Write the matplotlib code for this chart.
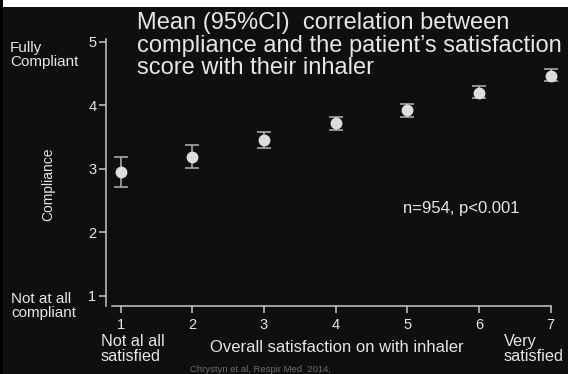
import numpy as np
import matplotlib.pyplot as plt
from matplotlib.patches import Rectangle

# satisfaction score vs mean compliance with 95% CI
satisfaction = [1, 2, 3, 4, 5, 6, 7]
compliance_mean = [2.95, 3.19, 3.46, 3.72, 3.93, 4.20, 4.47]
ci_low = [2.71, 3.01, 3.32, 3.61, 3.82, 4.11, 4.38]
ci_high = [3.18, 3.37, 3.58, 3.81, 4.02, 4.30, 4.57]
y_ticks = [1, 2, 3, 4, 5]
x_ticks = [1, 2, 3, 4, 5, 6, 7]

bg = '#0f0f0f'
fg = '#e6e6e6'
axcol = '#c8c8c8'

plt.rcParams['font.family'] = ['Liberation Sans', 'DejaVu Sans']

fig = plt.figure(figsize=(5.68, 3.74), dpi=100, facecolor=bg)
ax = fig.add_axes([0.1866, 0.1826, 0.7829, 0.7131], facecolor=bg)

yerr = [np.array(compliance_mean) - np.array(ci_low),
        np.array(ci_high) - np.array(compliance_mean)]
ax.errorbar(satisfaction, compliance_mean, yerr=yerr, fmt='o', ms=7.5,
            mfc='#dedede', mec='#dedede', ecolor='#b4b4b4', elinewidth=1.1,
            capsize=5, capthick=1.1, clip_on=False, zorder=3)

ax.set_xlim(0.795, 7.0)
ax.set_ylim(0.839, 5.047)
ax.set_xticks(x_ticks)
ax.set_yticks(y_ticks)

for s in ['top', 'right']:
    ax.spines[s].set_visible(False)
ax.spines['left'].set_color(axcol)
ax.spines['bottom'].set_color(axcol)
ax.spines['left'].set_linewidth(1.1)
ax.spines['bottom'].set_linewidth(1.1)
ax.spines['bottom'].set_bounds(0.875, 7.0)
ax.tick_params(colors=axcol, labelcolor=fg, labelsize=10.5, length=5, width=1.1)
ax.tick_params(axis='x', pad=4)
ax.tick_params(axis='y', pad=2)

# frame bits of the slide screenshot
fig.patches.append(Rectangle((0, 1 - 7 / 374), 1, 7 / 374, transform=fig.transFigure,
                             facecolor='white', edgecolor='none', zorder=0))
fig.patches.append(Rectangle((0, 0), 3 / 568, 1, transform=fig.transFigure,
                             facecolor='black', edgecolor='none', zorder=1))

fig.text(137 / 568, 1 - 12 / 374,
         'Mean (95%CI)  correlation between\ncompliance and the patient\u2019s satisfaction\nscore with their inhaler',
         color=fg, fontsize=17, ha='left', va='top', linespacing=1.03)

fig.text(10 / 568, 1 - 55 / 374, 'Fully\nCompliant', color=fg, fontsize=11,
         ha='left', va='center', linespacing=1.02)
fig.text(11 / 568, 1 - 306 / 374, 'Not at all\ncompliant', color=fg, fontsize=11,
         ha='left', va='center', linespacing=1.02)
fig.text(48 / 568, 1 - 184 / 374, 'Compliance', color=fg, fontsize=10,
         rotation=90, ha='center', va='center')

fig.text(101 / 568, 1 - 349 / 374, 'Not al all\nsatisfied', color=fg, fontsize=11.7,
         ha='left', va='center', linespacing=1.05)
fig.text(210 / 568, 1 - 347 / 374, 'Overall satisfaction on with inhaler', color=fg,
         fontsize=12, ha='left', va='center')
fig.text(504 / 568, 1 - 349 / 374, 'Very\nsatisfied', color=fg, fontsize=11.7,
         ha='left', va='center', linespacing=1.05)
fig.text(190 / 568, 1 - 369 / 374, 'Chrystyn et al, Respir Med  2014,', color='#6e6e6e',
         fontsize=6.8, ha='left', va='center')

fig.text(403 / 568, 1 - 208 / 374, 'n=954, p<0.001', color=fg, fontsize=12,
         ha='left', va='center')

fig.savefig('out.png', dpi=100, facecolor=bg)
